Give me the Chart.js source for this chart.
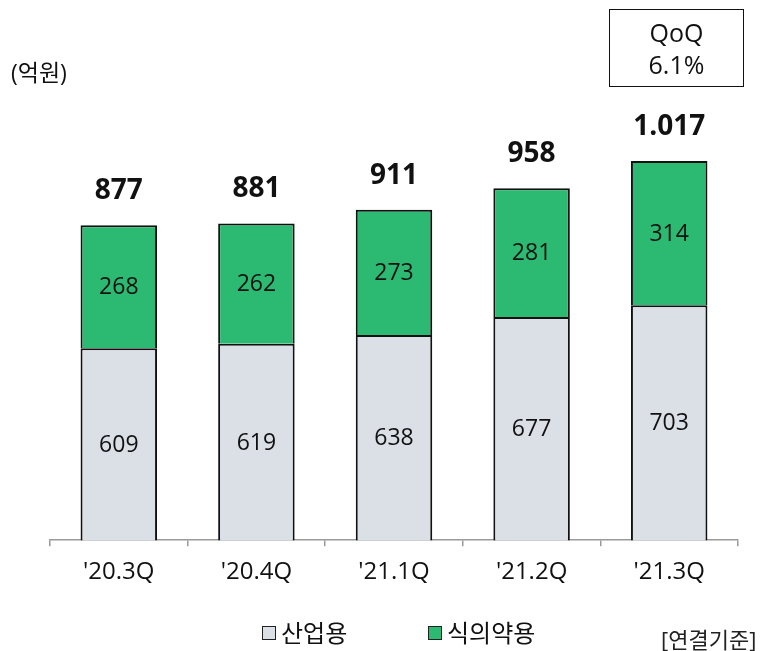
<!DOCTYPE html>
<html>
<head>
<meta charset="utf-8">
<script src="https://cdn.jsdelivr.net/npm/chart.js@4"></script>
<style>
  html, body { margin: 0; padding: 0; background: #fff; }
  #wrap { position: relative; width: 764px; height: 651px; overflow: hidden;
          font-family: 'Open Sans', 'Noto Sans CJK KR', sans-serif; color: #111; }
  #wrap canvas { position: absolute; left: 0; top: 0; }
  .unit { position: absolute; left: 11px; top: 57px; font-size: 23px; line-height: 30px; }
  .qoq { position: absolute; left: 609px; top: 9px; width: 133px; height: 70px;
         border: 1.5px solid #111; text-align: center; font-size: 25px; line-height: 32px;
         box-sizing: content-box; padding-top: 6px; }
  .basis { position: absolute; left: 661px; top: 624px; font-size: 22px; line-height: 30px; color: #222; }
  .legend { position: absolute; top: 617px; font-size: 24px; line-height: 32px; display: flex; align-items: center; }
  .legend i { display: inline-block; width: 12px; height: 12px; border: 1.5px solid #222; margin-right: 5px; }
</style>
</head>
<body>
<div id="wrap">
  <canvas id="c" width="764" height="651"></canvas>
  <div class="unit">(억원)</div>
  <div class="qoq">QoQ<br>6.1%</div>
  <div class="legend" style="left:262px"><i style="background:#dbdfe6"></i>산업용</div>
  <div class="legend" style="left:428px"><i style="background:#2cba73"></i>식의약용</div>
  <div class="basis">[연결기준]</div>
</div>
<script>
const categories = ["'20.3Q", "'20.4Q", "'21.1Q", "'21.2Q", "'21.3Q"];
const industrial = [609, 619, 638, 677, 703];
const foodPharma = [268, 262, 273, 281, 314];
const totalLabels = ["877", "881", "911", "958", "1.017"];
const seriesNames = ["산업용", "식의약용"];

const FONT = "'Open Sans', 'Noto Sans CJK KR', sans-serif";

const labelPlugin = {
  id: 'labels',
  afterDatasetsDraw(chart) {
    const ctx = chart.ctx;
    const area = chart.chartArea;
    ctx.save();
    ctx.textAlign = 'center';
    ctx.textBaseline = 'middle';
    ctx.fillStyle = '#111';
    chart.data.datasets.forEach((ds, di) => {
      const meta = chart.getDatasetMeta(di);
      meta.data.forEach((el, i) => {
        const top = el.y;
        const bottom = Math.min(el.base, area.bottom);
        ctx.font = "400 23px " + FONT;
        ctx.fillText(String(ds.data[i]), el.x, (top + bottom) / 2 + 1);
      });
    });
    const topMeta = chart.getDatasetMeta(chart.data.datasets.length - 1);
    topMeta.data.forEach((el, i) => {
      ctx.font = "700 28px " + FONT;
      ctx.fillText(totalLabels[i], el.x, el.y - 34);
    });
    ctx.restore();
  }
};

new Chart(document.getElementById('c'), {
  type: 'bar',
  data: {
    labels: categories,
    datasets: [
      { label: seriesNames[0], data: industrial, backgroundColor: '#dbdfe6',
        borderColor: '#111', borderWidth: 2, clip: 0 },
      { label: seriesNames[1], data: foodPharma, backgroundColor: '#2cba73',
        borderColor: '#111', borderWidth: 2, clip: 0 }
    ]
  },
  options: {
    responsive: false,
    animation: false,
    layout: { padding: { left: 50, right: 26, top: 100, bottom: 52 } },
    datasets: { bar: { barPercentage: 0.556, categoryPercentage: 1 } },
    plugins: { legend: { display: false }, tooltip: { enabled: false } },
    scales: {
      x: {
        stacked: true,
        grid: { drawOnChartArea: false, drawTicks: true, tickLength: 6, color: '#9a9a9a', lineWidth: 1.5, offset: true },
        border: { display: true, color: '#9a9a9a', width: 1.5 },
        ticks: { color: '#111', padding: 12, font: { family: FONT, size: 24 } }
      },
      y: {
        stacked: true, display: false, min: 191, max: 1150
      }
    }
  },
  plugins: [labelPlugin]
});
</script>
</body>
</html>
